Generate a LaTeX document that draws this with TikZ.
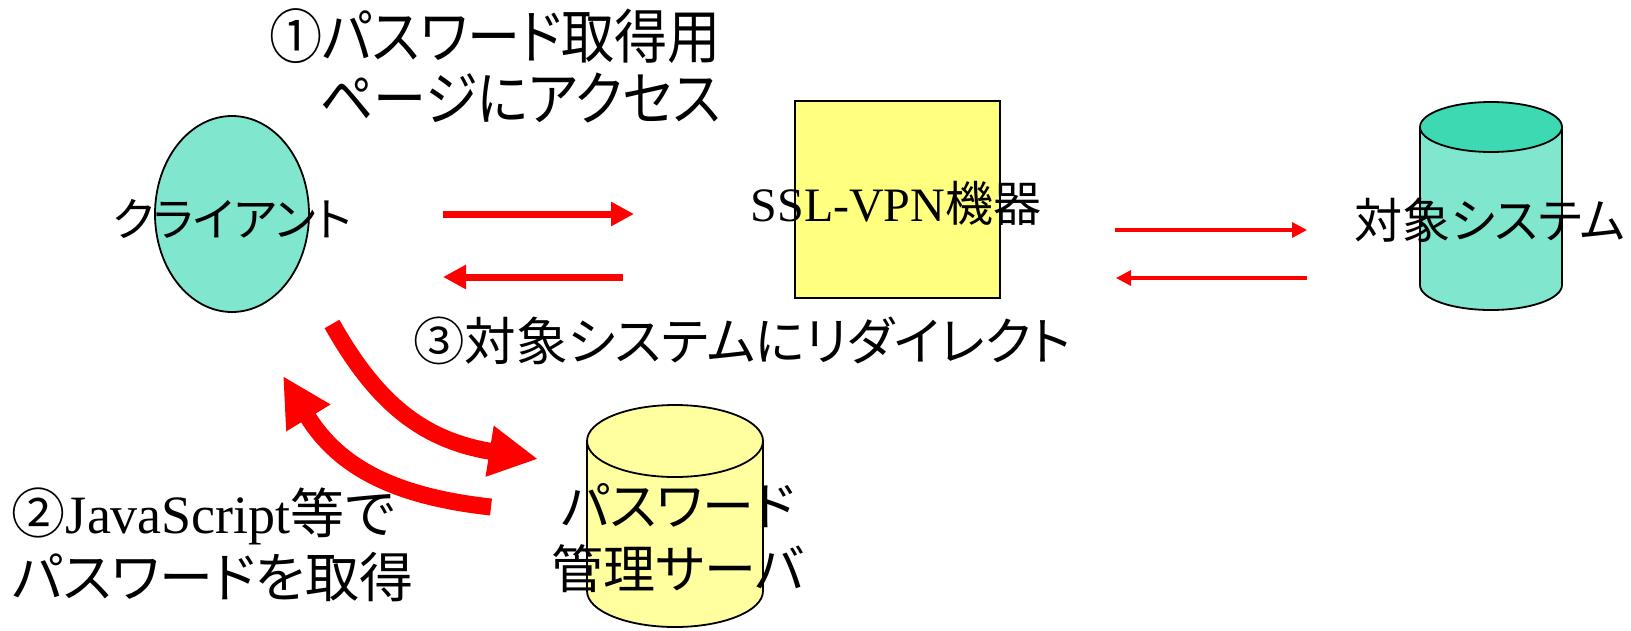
\documentclass[tikz,border=0pt]{standalone}
\usepackage{fontspec}
\setmainfont{Liberation Serif}
\newfontfamily\jp[RawFeature=+palt]{Noto Sans CJK JP}
\newfontfamily\jpn[RawFeature=+palt, FakeStretch=0.9]{Noto Sans CJK JP}
\usetikzlibrary{arrows.meta}
\definecolor{tealbody}{HTML}{80E6CE}
\definecolor{tealtop}{HTML}{3DD9B3}
\definecolor{boxyellow}{HTML}{FFFF80}
\definecolor{cylyellow}{HTML}{FFFFA0}
\definecolor{arrowred}{HTML}{FF0000}
\begin{document}
\begin{tikzpicture}[x=1pt,y=-1pt,
  outline/.style={draw=black, line width=1.8pt},
  txt/.style={inner sep=0pt, outer sep=0pt, text=black},
  thinarrow/.style={draw=arrowred, line width=3.3pt, -{Triangle[length=15pt,width=15pt]}},
  midarrow/.style={draw=arrowred, line width=7pt, -{Triangle[length=23pt,width=23pt]}},
  fatarrow/.style={draw=arrowred, line width=17pt, -{Triangle[length=49pt,width=48pt]}},
]
\useasboundingbox (0,0) rectangle (1631,630);

% client ellipse
\draw[outline, fill=tealbody] (232,214) ellipse [x radius=77pt, y radius=98pt];
% SSL-VPN box
\draw[outline, fill=boxyellow] (795,101) rectangle (1000,298);
% target system cylinder
\fill[tealbody] (1420,127) -- (1420,285) arc[start angle=180,end angle=360,x radius=71pt,y radius=25pt] -- (1562,127) -- cycle;
\draw[outline] (1420,127) -- (1420,285) arc[start angle=180,end angle=360,x radius=71pt,y radius=25pt] -- (1562,127);
\draw[outline, fill=tealtop] (1491,127) ellipse [x radius=71pt, y radius=25pt];
% password server cylinder
\fill[cylyellow] (587,441) -- (587,591) arc[start angle=180,end angle=360,x radius=88pt,y radius=36pt] -- (763,441) -- cycle;
\draw[outline] (587,441) -- (587,591) arc[start angle=180,end angle=360,x radius=88pt,y radius=36pt] -- (763,441);
\draw[outline, fill=cylyellow] (675,441) ellipse [x radius=88pt, y radius=36pt];

% node labels
\node[txt, font=\jp\fontsize{46}{50}\selectfont] (client) at (232,219) {クライアント};
\node[txt, font=\fontsize{48}{52}\selectfont] (vpn) at (896,203) {SSL-VPN{\jp 機器}};
\node[txt, font=\jp\fontsize{48}{52}\selectfont] (target) at (1490,220) {対象システム};
\node[txt, font=\jp\fontsize{52}{63}\selectfont, align=center] (pwserver) at (678,538) {パスワード\\管理サーバ};

% annotations
\node[txt, font=\jpn\fontsize{59}{62}\selectfont, align=right, anchor=east] (lab1) at (721,66) {①パスワード取得用\\ページにアクセス};
\node[txt, font=\jp\fontsize{51.5}{54}\selectfont] (lab3) at (742,341) {③対象システムにリダイレクト};
\node[txt, font=\fontsize{54}{64}\selectfont, align=left, anchor=west] (lab2) at (12,545) {{\jp ②}JavaScript{\jp 等で}\\{\jp パスワードを取得}};

% arrow end points
\coordinate (a1s) at (443,214);
\coordinate (a1e) at (634,214);
\coordinate (a2s) at (623,277);
\coordinate (a2e) at (443,277);
\coordinate (b1s) at (1115,230);
\coordinate (b1e) at (1307,230);
\coordinate (b2s) at (1307,278);
\coordinate (b2e) at (1116,278);
\coordinate (c1s) at (332,324);
\coordinate (c1e) at (538,459);
\coordinate (c2s) at (491,507);
\coordinate (c2e) at (283,376);

\draw[midarrow] (a1s) -- (a1e);
\draw[midarrow] (a2s) -- (a2e);
\draw[thinarrow] (b1s) -- (b1e);
\draw[thinarrow] (b2s) -- (b2e);
\draw[fatarrow] (c1s) .. controls (375,400) and (420,440) .. (c1e);
\draw[fatarrow] (c2s) .. controls (400,497) and (340,470) .. (c2e);
\end{tikzpicture}
\end{document}
